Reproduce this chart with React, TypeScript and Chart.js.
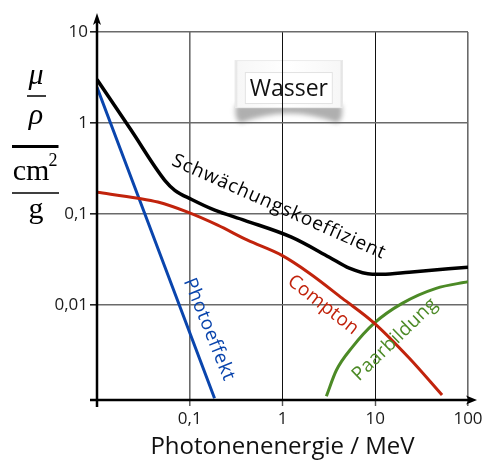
import { useEffect, useRef } from 'react';
import { Chart, registerables } from 'chart.js';

Chart.register(...registerables);

const SANS = '"Open Sans", "Noto Sans", sans-serif';
const SERIF = '"Liberation Serif", "DejaVu Serif", serif';

const BLACK = '#000000';
const RED = '#c1230c';
const BLUE = '#0a45ad';
const GREEN = '#4c8a26';

// Photon energy axis (MeV), log scale
const xTickValues = [0.01, 0.1, 1, 10, 100];
const xTickLabels = ['', '0,1', '1', '10', '100'];

// Mass attenuation coefficient axis (cm²/g), log scale
const yTickValues = [0.01, 0.1, 1, 10];
const yTickLabels = ['0,01', '0,1', '1', '10'];

// Total attenuation coefficient of water
const totalEnergy = [0.01, 0.0232, 0.0538, 0.069, 0.105, 0.186, 0.39, 1.25, 3.2, 5.25, 9.3, 11.9, 23.2, 100];
const totalCoeff = [3.0, 0.84, 0.234, 0.182, 0.144, 0.11, 0.085, 0.0555, 0.0334, 0.0253, 0.0217, 0.0217, 0.0229, 0.026];

// Compton scattering
const comptonEnergy = [0.01, 0.0276, 0.0453, 0.095, 0.2, 0.42, 0.975, 1.95, 4.42, 9.75, 23.2, 52.5];
const comptonCoeff = [0.173, 0.149, 0.135, 0.1045, 0.0752, 0.0514, 0.0352, 0.0223, 0.0118, 0.0063, 0.0026, 0.00102];

// Photoelectric absorption
const photoEnergy = [0.01, 0.185];
const photoCoeff = [2.47, 0.00094];

// Pair production
const pairEnergy = [2.97, 3.81, 5.66, 9.75, 19.5, 45.3, 100];
const pairCoeff = [0.00099, 0.00191, 0.00343, 0.0063, 0.0104, 0.0152, 0.018];

// Curve names written along the lines (anchored in data coordinates)
const curveLabels = [
  { text: 'Schwächungskoeffizient', energy: 0.917, coeff: 0.119, angle: 24, color: BLACK, size: 19, spacing: 0.9 },
  { text: 'Compton', energy: 2.74, coeff: 0.00997, angle: 38, color: RED, size: 19, spacing: 0.3 },
  { text: 'Photoeffekt', energy: 0.161, coeff: 0.00536, angle: 68, color: BLUE, size: 19, spacing: 0.5 },
  { text: 'Paarbildung', energy: 16.3, coeff: 0.00416, angle: -44, color: GREEN, size: 19, spacing: 0.3 },
];

const boxTitle = 'Wasser';
const boxEnergy = 1.17;
const boxCoeff = 2.42;

const xTitle = 'Photonenenergie / MeV';

const toPoints = (xs: number[], ys: number[]) => xs.map((x, i) => ({ x, y: ys[i] }));

function drawWaterBox(chart: any) {
  const ctx = chart.ctx as CanvasRenderingContext2D;
  const cx = chart.scales.x.getPixelForValue(boxEnergy);
  const cy = chart.scales.y.getPixelForValue(boxCoeff);
  const ol = cx - 54, or = cx + 54, ot = cy - 28, ob = cy + 20;
  ctx.save();
  // curled shadow under the card
  ctx.filter = 'blur(2.5px)';
  ctx.fillStyle = 'rgba(110,110,110,0.55)';
  ctx.beginPath();
  ctx.moveTo(ol + 1, ob - 3);
  ctx.lineTo(or - 1, ob - 3);
  ctx.quadraticCurveTo(or + 1, ob + 12, or - 6, ob + 15);
  ctx.quadraticCurveTo(cx, ob - 4, ol + 6, ob + 15);
  ctx.quadraticCurveTo(ol - 1, ob + 12, ol + 1, ob - 3);
  ctx.closePath();
  ctx.fill();
  ctx.filter = 'none';
  // card
  const g = ctx.createLinearGradient(ol, 0, or, 0);
  g.addColorStop(0, '#d8d8d8');
  g.addColorStop(0.03, '#f7f7f7');
  g.addColorStop(0.5, '#ffffff');
  g.addColorStop(0.97, '#f7f7f7');
  g.addColorStop(1, '#d8d8d8');
  ctx.fillStyle = g;
  ctx.fillRect(ol, ot, or - ol, ob - ot);
  ctx.strokeStyle = '#ececec';
  ctx.lineWidth = 1;
  ctx.strokeRect(ol + 0.5, ot + 0.5, or - ol - 1, ob - ot - 1);
  // inner frame
  ctx.fillStyle = '#ffffff';
  ctx.fillRect(cx - 44, cy - 16, 88, 32);
  ctx.strokeStyle = '#e2e2e2';
  ctx.strokeRect(cx - 43.5, cy - 15.5, 87, 31);
  ctx.fillStyle = '#111';
  ctx.font = `23px ${SANS}`;
  ctx.textAlign = 'center';
  ctx.textBaseline = 'middle';
  ctx.fillText(boxTitle, cx, cy + 1);
  ctx.restore();
}

function drawAxes(chart: any) {
  const ctx = chart.ctx as CanvasRenderingContext2D;
  const { left, right, top, bottom } = chart.chartArea;
  ctx.save();
  ctx.strokeStyle = '#000';
  ctx.fillStyle = '#000';
  ctx.lineWidth = 2.5;
  ctx.beginPath();
  ctx.moveTo(left, bottom + 7);
  ctx.lineTo(left, top - 12);
  ctx.moveTo(left - 7, bottom);
  ctx.lineTo(right + 4, bottom);
  ctx.stroke();
  // arrowheads
  ctx.beginPath();
  ctx.moveTo(left, top - 19);
  ctx.lineTo(left + 4, top - 7);
  ctx.lineTo(left, top - 10);
  ctx.lineTo(left - 4, top - 7);
  ctx.closePath();
  ctx.fill();
  ctx.beginPath();
  ctx.moveTo(right + 9, bottom);
  ctx.lineTo(right - 2, bottom - 4.5);
  ctx.lineTo(right + 1, bottom);
  ctx.lineTo(right - 2, bottom + 4.5);
  ctx.closePath();
  ctx.fill();
  ctx.restore();
}

function drawCurveLabels(chart: any) {
  const ctx = chart.ctx as CanvasRenderingContext2D;
  ctx.save();
  ctx.textAlign = 'center';
  ctx.textBaseline = 'middle';
  for (const l of curveLabels) {
    const px = chart.scales.x.getPixelForValue(l.energy);
    const py = chart.scales.y.getPixelForValue(l.coeff);
    ctx.save();
    ctx.translate(px, py);
    ctx.rotate((l.angle * Math.PI) / 180);
    ctx.font = `${l.size}px ${SANS}`;
    (ctx as any).letterSpacing = `${l.spacing}px`;
    ctx.fillStyle = l.color;
    ctx.fillText(l.text, 0, 0);
    ctx.restore();
  }
  ctx.restore();
}

// y-axis title: (mu / rho) over (cm^2 / g)
function drawYTitle(chart: any) {
  const ctx = chart.ctx as CanvasRenderingContext2D;
  const cx = 36;
  ctx.save();
  ctx.fillStyle = '#000';
  ctx.strokeStyle = '#000';
  ctx.textAlign = 'center';
  ctx.textBaseline = 'alphabetic';
  ctx.font = `italic 30px ${SERIF}`;
  ctx.fillText('μ', cx, 84);
  ctx.fillText('ρ', cx, 124);
  ctx.font = `30px ${SERIF}`;
  ctx.fillText('cm', cx - 5, 180);
  ctx.font = `18px ${SERIF}`;
  ctx.fillText('2', cx + 17, 166);
  ctx.font = `30px ${SERIF}`;
  ctx.fillText('g', cx, 218);
  ctx.lineWidth = 1.3;
  ctx.beginPath();
  ctx.moveTo(27, 96);
  ctx.lineTo(46, 96);
  ctx.moveTo(12, 193);
  ctx.lineTo(59, 193);
  ctx.stroke();
  ctx.lineWidth = 2.8;
  ctx.beginPath();
  ctx.moveTo(12, 146.5);
  ctx.lineTo(58.5, 146.5);
  ctx.stroke();
  ctx.restore();
}

const decorations = {
  id: 'decorations',
  beforeDraw(chart: any) {
    drawWaterBox(chart);
  },
  afterDatasetsDraw(chart: any) {
    drawAxes(chart);
    drawCurveLabels(chart);
    drawYTitle(chart);
  },
};

export default function App() {
  const canvasRef = useRef<HTMLCanvasElement | null>(null);

  useEffect(() => {
    const canvas = canvasRef.current;
    if (!canvas) return;
    const line = (data: { x: number; y: number }[], color: string, width: number) => ({
      data,
      borderColor: color,
      backgroundColor: color,
      borderWidth: width,
      pointRadius: 0,
      fill: false,
      cubicInterpolationMode: 'monotone' as const,
      borderCapStyle: 'butt' as const,
    });

    const chart = new Chart(canvas, {
      type: 'line',
      data: {
        datasets: [
          line(toPoints(totalEnergy, totalCoeff), BLACK, 3.5),
          line(toPoints(comptonEnergy, comptonCoeff), RED, 3),
          line(toPoints(photoEnergy, photoCoeff), BLUE, 3),
          line(toPoints(pairEnergy, pairCoeff), GREEN, 3),
        ],
      },
      options: {
        responsive: false,
        maintainAspectRatio: false,
        animation: false,
        parsing: false,
        layout: { padding: { left: 0, top: 32, right: 26, bottom: 0 } },
        plugins: {
          legend: { display: false },
          tooltip: { enabled: false },
        },
        scales: {
          x: {
            type: 'logarithmic',
            min: 0.01,
            max: 100,
            border: { display: false },
            afterBuildTicks: (axis: any) => {
              axis.ticks = xTickValues.map((v) => ({ value: v }));
            },
            afterFit: (scale: any) => {
              scale.height = 62;
            },
            grid: {
              color: (c: any) => (c.tick && (c.tick.value === 1 || c.tick.value === 10) ? '#111' : '#6a6a6a'),
              lineWidth: (c: any) => (c.tick && (c.tick.value === 1 || c.tick.value === 10) ? 1 : 1.6),
              tickColor: (c: any) => (c.tick && c.tick.value === 0.01 ? '#000' : '#555'),
              tickWidth: 1.4,
              tickLength: 6,
            },
            ticks: {
              autoSkip: false,
              maxRotation: 0,
              padding: 3,
              color: '#1a1a1a',
              font: { family: SANS, size: 17 },
              callback: (v: any) => xTickLabels[xTickValues.indexOf(Number(v))] ?? '',
            },
            title: {
              display: true,
              text: xTitle,
              color: '#111',
              font: { family: SANS, size: 24 },
              padding: { top: 0, bottom: 0 },
            },
          },
          y: {
            type: 'logarithmic',
            min: 0.0009,
            max: 10,
            border: { display: false },
            afterBuildTicks: (axis: any) => {
              axis.ticks = yTickValues.map((v) => ({ value: v }));
            },
            afterFit: (scale: any) => {
              scale.width = 97;
            },
            grid: {
              color: '#6a6a6a',
              lineWidth: 1.6,
              tickColor: '#222',
              tickWidth: 1.6,
              tickLength: 7,
            },
            ticks: {
              autoSkip: false,
              padding: 2,
              color: '#1a1a1a',
              font: { family: SANS, size: 17 },
              callback: (v: any) => yTickLabels[yTickValues.indexOf(Number(v))] ?? '',
            },
          },
        },
      },
      plugins: [decorations],
    });

    return () => chart.destroy();
  }, []);

  return (
    <div style={{ position: 'absolute', left: 0, top: 0, width: 494, height: 462, background: '#fff' }}>
      <canvas ref={canvasRef} width={494} height={462} />
    </div>
  );
}
